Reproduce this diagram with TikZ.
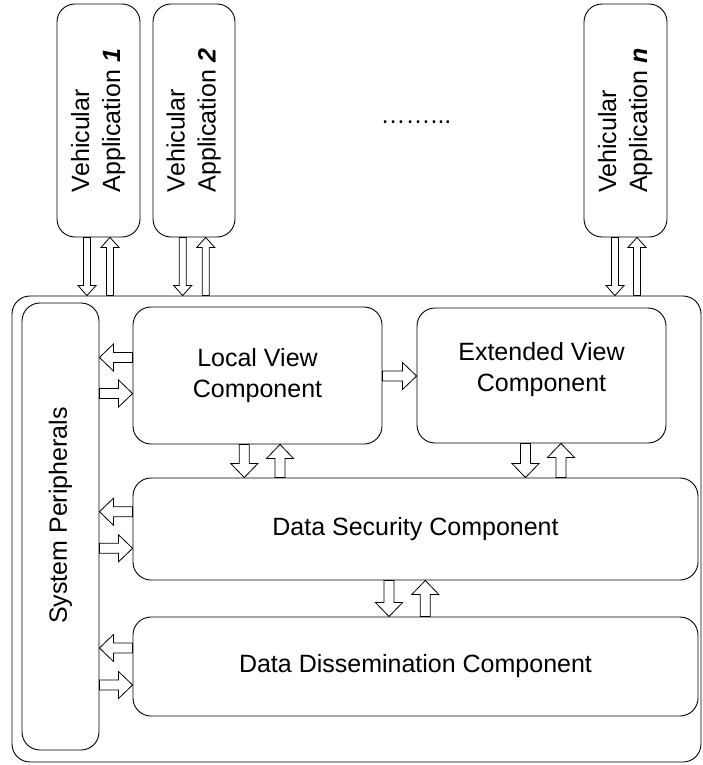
\documentclass[tikz,border=0pt]{standalone}
\usepackage{fontspec}
\setmainfont{Liberation Sans}
\usetikzlibrary{positioning, calc}
\tikzset{
every node/.style={font=\fontsize{25}{31}\selectfont, inner sep=0pt}, % sets the text of every node
comp/.style={draw, line width=0.9pt, rounded corners=18pt, align=center}, % rounded boxes of the components
blk/.style n args={3}{to path={
  let \p1=($(\tikztotarget)-(\tikztostart)$), \n1={veclen(\x1,\y1)}, \n2={atan2(\y1,\x1)} in
  ($(\tikztostart)+(\n2+90:#1)$) -- ++(\n2:\n1-#3) -- ++(\n2+90:#2-#1)
  -- (\tikztotarget) -- ($(\tikztostart)+(\n2:\n1-#3)+(\n2-90:#2)$)
  -- ++(\n2+90:#2-#1) -- ($(\tikztostart)+(\n2-90:#1)$) -- cycle}}, % hollow arrow: half shaft, half head, head length
bigarrow/.style={draw, line width=0.8pt, blk={5pt}{13.5pt}{14pt}}, % arrows between the components
smallarrow/.style={draw, line width=0.8pt, blk={3.5pt}{9pt}{10pt}}, % arrows of the applications
}
\newcommand{\applabel}[1]{\rotatebox{90}{\begin{tabular}{@{}l@{}}Vehicular\\Application \textbf{\textit{#1}}\end{tabular}}}

\begin{document}
\begin{tikzpicture}[x=1pt, y=-1pt]
    \useasboundingbox (0,0) rectangle (703,765);
    \node[comp, minimum width=689pt, minimum height=466pt] (sys) at (356.5,529) {};
    \node[comp, minimum width=83pt, minimum height=233pt] (app1) at (98.5,120.5) {\applabel{1}};
    \node[comp, minimum width=82pt, minimum height=233pt] (app2) at (194,120.5) {\applabel{2}};
    \node[comp, minimum width=83pt, minimum height=233pt] (appn) at (625.5,120.5) {\applabel{n}};
    \node[anchor=base] (dots) at (416,124) {……...};
    \node[comp, minimum width=77pt, minimum height=447pt] (sp) at (60.5,526.5) {\rotatebox{90}{\hspace{22pt}System Peripherals}};
    \node[comp, minimum width=249pt, minimum height=137pt] (lv) at (257.5,375.5) {Local View\\Component};
    \node[comp, minimum width=249pt, minimum height=135pt, text depth=17pt] (ev) at (541.5,375.5) {Extended View\\Component};
    \node[comp, minimum width=565pt, minimum height=102pt] (ds) at (415.5,529) {Data Security Component};
    \node[comp, minimum width=565pt, minimum height=99pt] (dd) at (415.5,666.5) {Data Dissemination Component};

    % applications
    \draw[smallarrow] (87,0 |- app1.south) to (87,0 |- sys.north);
    \draw[smallarrow] (110,0 |- sys.north) to (110,0 |- app1.south);
    \draw[smallarrow] (182.7,0 |- app2.south) to (182.7,0 |- sys.north);
    \draw[smallarrow] (205.7,0 |- sys.north) to (205.7,0 |- app2.south);
    \draw[smallarrow] (615,0 |- appn.south) to (615,0 |- sys.north);
    \draw[smallarrow] (637,0 |- sys.north) to (637,0 |- appn.south);

    % system peripherals
    \draw[bigarrow] (lv.west |- 0,357.5) to (sp.east |- 0,357.5);
    \draw[bigarrow] (sp.east |- 0,393.5) to (lv.west |- 0,393.5);
    \draw[bigarrow] (ds.west |- 0,511.7) to (sp.east |- 0,511.7);
    \draw[bigarrow] (sp.east |- 0,548.3) to (ds.west |- 0,548.3);
    \draw[bigarrow] (dd.west |- 0,648) to (sp.east |- 0,648);
    \draw[bigarrow] (sp.east |- 0,685) to (dd.west |- 0,685);

    % components
    \draw[bigarrow] (lv.east |- 0,376) to (ev.west |- 0,376);
    \draw[bigarrow] (244.3,0 |- lv.south) to (244.3,0 |- ds.north);
    \draw[bigarrow] (280,0 |- ds.north) to (280,0 |- lv.south);
    \draw[bigarrow] (525.5,0 |- ev.south) to (525.5,0 |- ds.north);
    \draw[bigarrow] (561,0 |- ds.north) to (561,0 |- ev.south);
    \draw[bigarrow] (389,0 |- ds.south) to (389,0 |- dd.north);
    \draw[bigarrow] (425.3,0 |- dd.north) to (425.3,0 |- ds.south);
\end{tikzpicture}
\end{document}
